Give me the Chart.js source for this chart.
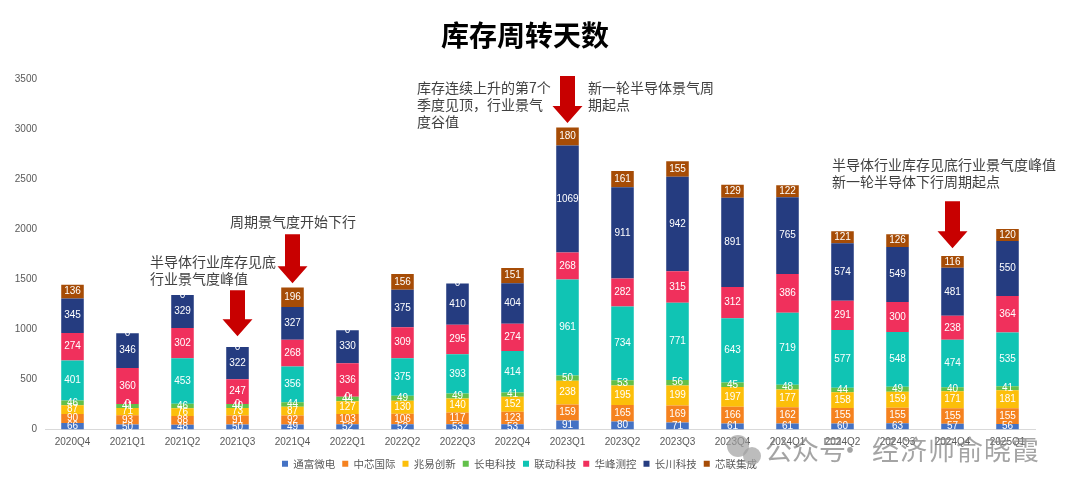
<!DOCTYPE html>
<html>
<head>
<meta charset="utf-8">
<script src="https://cdn.jsdelivr.net/npm/chart.js@4/dist/chart.umd.min.js"></script>
<style>
html,body{margin:0;padding:0;background:#fff;}
#wrap{width:1076px;height:493px;position:relative;}
</style>
</head>
<body>
<div id="wrap"><canvas id="c" width="1076" height="493"></canvas></div>
<script>
const categories = ["2020Q4","2021Q1","2021Q2","2021Q3","2021Q4","2022Q1","2022Q2","2022Q3","2022Q4","2023Q1","2023Q2","2023Q3","2023Q4","2024Q1","2024Q2","2024Q3","2024Q4","2025Q1"];
const tongfu   = [66,50,48,50,49,52,52,53,53,91,80,71,61,61,60,63,57,56];
const smic     = [90,93,88,91,92,103,106,117,123,159,165,169,166,162,155,155,155,155];
const gigadev  = [87,71,76,73,87,127,130,140,152,238,195,199,197,177,158,159,171,181];
const jcet     = [46,41,46,40,44,44,49,49,41,50,53,56,45,48,44,49,40,41];
const powertech= [401,0,453,0,356,0,375,393,414,961,734,771,643,719,577,548,474,535];
const accotest = [274,360,302,247,268,336,309,295,274,268,282,315,312,386,291,300,238,364];
const changchuan=[345,346,329,322,327,330,375,410,404,1069,911,942,891,765,574,549,481,550];
const unt      = [136,0,0,0,196,0,156,0,151,180,161,155,129,122,121,126,116,120];
const seriesNames = ["通富微电","中芯国际","兆易创新","长电科技","联动科技","华峰测控","长川科技","芯联集成"];
const yTicks = [0,500,1000,1500,2000,2500,3000,3500];

const seriesData = [tongfu,smic,gigadev,jcet,powertech,accotest,changchuan,unt];
const colors = ["#4472C4","#F5821F","#FCBF0A","#62C04A","#10C4B4","#F0305C","#253C80","#A64C06"];

// annotations (category index, values in data space)
const arrows = [
  {cat:3, tip:930, tail:1390},
  {cat:4, tip:1460, tail:1950},
  {cat:9, tip:3060, tail:3530},
  {cat:16, tip:1810, tail:2280}
];
const notes = [
  {x:150, y:262, lines:["半导体行业库存见底","行业景气度峰值"]},
  {x:230, y:222, lines:["周期景气度开始下行"]},
  {x:417, y:88, lines:["库存连续上升的第7个","季度见顶，行业景气","度谷值"]},
  {x:588, y:88, lines:["新一轮半导体景气周","期起点"]},
  {x:832, y:165, lines:["半导体行业库存见底行业景气度峰值","新一轮半导体下行周期起点"]}
];

const datasets = seriesNames.map((n,i)=>({
  label:n, data:seriesData[i], backgroundColor:colors[i],
  borderWidth:0, barPercentage:0.41, categoryPercentage:1.0, stack:'s'
}));

const overlay = {
  id:'overlay',
  afterDatasetsDraw(chart){
    const ctx = chart.ctx;
    ctx.save();
    ctx.font = '10px "Liberation Sans", Arial, sans-serif';
    ctx.fillStyle = '#ffffff';
    ctx.textAlign = 'center';
    ctx.textBaseline = 'middle';
    chart.data.datasets.forEach((ds,di)=>{
      const meta = chart.getDatasetMeta(di);
      meta.data.forEach((el,i)=>{
        const mid = (el.y + el.base)/2;
        ctx.fillText(String(ds.data[i]), el.x, mid);
      });
    });
    ctx.restore();
  },
  afterDraw(chart){
    const ctx = chart.ctx;
    const xs = chart.scales.x, ys = chart.scales.y;
    ctx.save();
    // title
    ctx.font = 'bold 28px "Noto Sans CJK SC", sans-serif';
    ctx.fillStyle = '#000';
    ctx.textAlign = 'center';
    ctx.textBaseline = 'middle';
    ctx.fillText('库存周转天数', 525, 35);
    // arrows
    ctx.fillStyle = '#C80000';
    arrows.forEach(a=>{
      const cx = xs.getPixelForValue(a.cat);
      const tipY = ys.getPixelForValue(a.tip);
      const tailY = ys.getPixelForValue(a.tail);
      const headH = 17, sw = 7.5, hw = 15;
      ctx.beginPath();
      ctx.moveTo(cx - sw, tailY);
      ctx.lineTo(cx + sw, tailY);
      ctx.lineTo(cx + sw, tipY - headH);
      ctx.lineTo(cx + hw, tipY - headH);
      ctx.lineTo(cx, tipY);
      ctx.lineTo(cx - hw, tipY - headH);
      ctx.lineTo(cx - sw, tipY - headH);
      ctx.closePath();
      ctx.fill();
    });
    // notes
    ctx.font = '14px "Noto Sans CJK SC", sans-serif';
    ctx.fillStyle = '#404040';
    ctx.textAlign = 'left';
    notes.forEach(n=>{
      n.lines.forEach((t,k)=>ctx.fillText(t, n.x, n.y + k*17));
    });
    // watermark
    ctx.fillStyle = 'rgba(160,160,160,0.7)';
    ctx.beginPath(); ctx.arc(738, 446, 11, 0, Math.PI*2); ctx.fill();
    ctx.beginPath(); ctx.arc(752, 456, 9, 0, Math.PI*2); ctx.fill();
    ctx.font = '27px "Noto Sans CJK SC", sans-serif';
    ctx.fillStyle = 'rgba(125,125,125,0.7)';
    ctx.textBaseline = 'middle';
    ctx.fillText('公众号', 765, 450);
    ctx.textAlign = 'center';
    ctx.fillText('·', 850, 450);
    ctx.textAlign = 'left';
    ctx.letterSpacing = '1px';
    ctx.fillText('经济师俞晓霞', 872, 450);
    ctx.restore();
  }
};

new Chart(document.getElementById('c'), {
  type:'bar',
  data:{labels:categories, datasets},
  options:{
    responsive:false, animation:false,
    layout:{padding:{left:4, right:41, top:79, bottom:14}},
    plugins:{
      title:{display:false},
      tooltip:{enabled:false},
      legend:{
        position:'bottom',
        labels:{boxWidth:6, boxHeight:6, padding:7, color:'#595959',
          font:{size:10.5, family:'"Noto Sans CJK SC", sans-serif'}}
      }
    },
    scales:{
      x:{
        stacked:true,
        grid:{display:false, drawTicks:false},
        border:{display:true, color:'#d9d9d9'},
        ticks:{color:'#595959', font:{size:10, family:'"Liberation Sans", Arial, sans-serif'}, padding:7, maxRotation:0, autoSkip:false},
        afterFit(s){ s.height = 22; }
      },
      y:{
        stacked:true, min:0, max:3500,
        grid:{display:false, drawTicks:false},
        border:{display:false},
        afterBuildTicks(s){ s.ticks = yTicks.map(v=>({value:v})); },
        ticks:{color:'#595959', font:{size:10, family:'"Liberation Sans", Arial, sans-serif'}, padding:8,
          callback:(v)=>String(v)},
        afterFit(s){ s.width = 41; }
      }
    }
  },
  plugins:[overlay]
});
</script>
</body>
</html>
